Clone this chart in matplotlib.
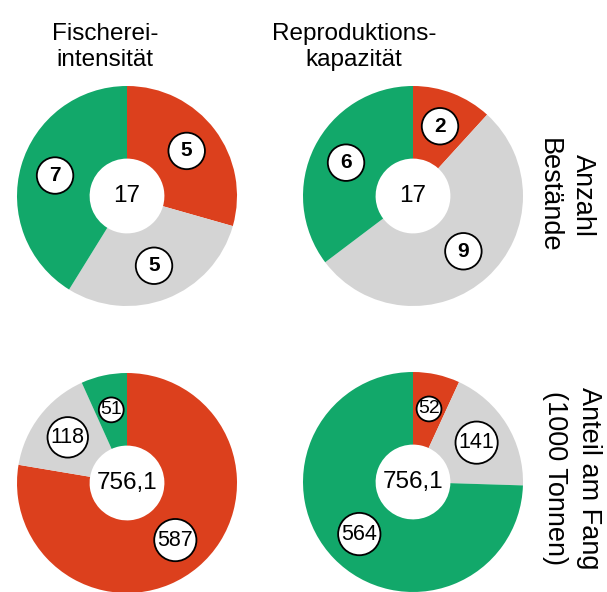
import matplotlib.pyplot as plt
import numpy as np

plt.rcParams['font.family'] = ['Liberation Sans', 'DejaVu Sans']

W, H = 607, 592
col_titles = ["Fischerei-\nintensität", "Reproduktions-\nkapazität"]
row_titles = ["Anzahl\nBestände", "Anteil am Fang\n(1000 Tonnen)"]
colors = ["#DC401D", "#D4D4D4", "#12A86A"]  # rot, grau, grün

# Anzahl Bestände
stocks_fishing = [5, 5, 7]
stocks_repro = [2, 9, 6]
stocks_total = "17"
# Anteil am Fang (1000 t)
catch_fishing = [587, 118, 51]
catch_repro = [52, 141, 564]
catch_total = "756,1"

panels = [
    (stocks_fishing, stocks_total, (127, 196), True),
    (stocks_repro, stocks_total, (413, 196), True),
    (catch_fishing, catch_total, (127, 483), False),
    (catch_repro, catch_total, (413, 482), False),
]

R = 110
fig = plt.figure(figsize=(W / 100, H / 100), dpi=100)

for values, total, (cx, cy), bold in panels:
    ax = fig.add_axes([(cx - R) / W, 1 - (cy + R) / H, 2 * R / W, 2 * R / H])
    wedges, _ = ax.pie(values, colors=colors, startangle=90, counterclock=False,
                       radius=1, wedgeprops=dict(width=0.66, linewidth=0))
    ax.set_xlim(-1, 1)
    ax.set_ylim(-1, 1)
    ax.set_aspect("equal")
    ax.axis("off")
    ax.text(0, 0, total, ha="center", va="center", fontsize=17.5)
    for w, v in zip(wedges, values):
        span = w.theta2 - w.theta1
        ang = np.deg2rad((w.theta1 + w.theta2) / 2)
        r = 0.68
        if bold:
            fs, pad = 15, 0.42
        elif span < 40:
            fs, pad = 14, 0.08
        else:
            fs, pad = 15.5, 0.15
        ax.text(r * np.cos(ang), r * np.sin(ang), str(v), ha="center", va="center",
                fontsize=fs, fontweight="bold" if bold else "normal",
                bbox=dict(boxstyle=f"circle,pad={pad}", fc="white", ec="black", lw=1.3))

fig.text(105 / W, 1 - 47 / H, col_titles[0], ha="center", va="center",
         fontsize=17.5, linespacing=1.2)
fig.text(354 / W, 1 - 47 / H, col_titles[1], ha="center", va="center",
         fontsize=17.5, linespacing=1.2)
fig.text(566 / W, 1 - 195 / H, row_titles[0], ha="center", va="center",
         rotation=-90, fontsize=19.5, linespacing=1.4)
fig.text(572 / W, 1 - 478 / H, row_titles[1], ha="center", va="center",
         rotation=-90, fontsize=19.5, linespacing=1.4)

fig.savefig("out.png", dpi=100)
